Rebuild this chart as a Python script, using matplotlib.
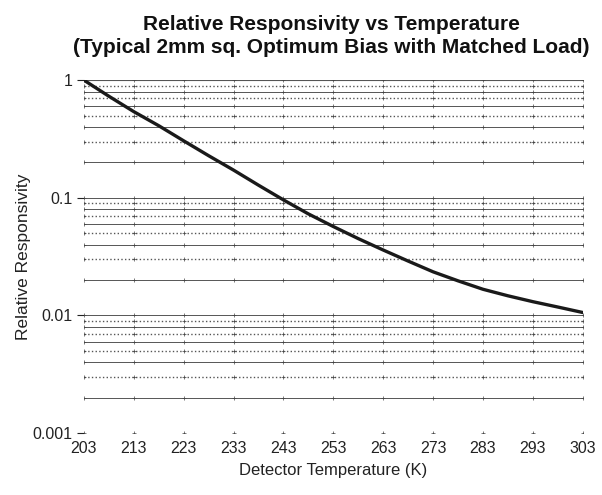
import numpy as np
import matplotlib
matplotlib.use("Agg")
import matplotlib.pyplot as plt

plt.rcParams["font.family"] = ["Liberation Sans", "DejaVu Sans"]

# detector temperature (K) and relative responsivity
temp_k = [203, 208, 213, 218, 223, 228, 233, 238, 243, 248, 253,
          258, 263, 268, 273, 278, 283, 288, 293, 298, 303]
responsivity = [1.0, 0.73, 0.54, 0.41, 0.305, 0.228, 0.172, 0.128, 0.096, 0.073, 0.057,
                0.045, 0.036, 0.029, 0.0235, 0.0197, 0.0167, 0.0147, 0.0131, 0.0118, 0.0106]

x_ticks = [203, 213, 223, 233, 243, 253, 263, 273, 283, 293, 303]
y_ticks = [0.001, 0.01, 0.1, 1]
y_tick_labels = ["0.001", "0.01", "0.1", "1"]

fig = plt.figure(figsize=(6.02, 4.95), dpi=100)
ax = fig.add_axes([0.1395, 0.125, 0.8285, 0.713])

# horizontal grid at every 1..9 x decade, mixed solid / dotted like the printed original
styles = {1: "-", 2: "-", 3: ":", 4: "-", 5: ":", 6: "-", 7: ":", 8: "-", 9: ":"}
for dec in [0.001, 0.01, 0.1]:
    for m in range(1, 10):
        v = dec * m
        ls = styles[m]
        ax.axhline(v, color="#555555", lw=0.7 if ls == "-" else 1.0, ls=ls, zorder=1)
ax.axhline(1.0, color="#555555", lw=0.8, zorder=1)

# small crosses where the vertical grid would be
gx, gy = np.meshgrid(x_ticks, [d * m for d in [0.001, 0.01, 0.1] for m in range(1, 10)] + [1.0])
ax.scatter(gx.ravel(), gy.ravel(), marker="+", s=6, lw=0.5, color="#444444", zorder=2)

ax.plot(temp_k, responsivity, color="#1a1a1a", lw=2.4, zorder=3, solid_capstyle="round")

ax.set_yscale("log")
ax.set_xlim(203, 303)
ax.set_ylim(0.001, 1)
ax.set_xticks(x_ticks)
ax.set_yticks(y_ticks)
ax.set_yticklabels(y_tick_labels)
ax.yaxis.set_minor_locator(matplotlib.ticker.NullLocator())
for s in ax.spines.values():
    s.set_visible(False)
ax.tick_params(axis="x", length=0, pad=6, labelsize=11.5, colors="#222222")
ax.tick_params(axis="y", length=5, width=0.8, pad=3, labelsize=11.5, colors="#222222")

ax.set_xlabel("Detector Temperature (K)", fontsize=12, color="#222222", labelpad=5)
ax.set_ylabel("Relative Responsivity", fontsize=12.5, color="#222222", labelpad=1)
fig.suptitle("Relative Responsivity vs Temperature\n(Typical 2mm sq. Optimum Bias with Matched Load)",
             x=0.55, y=0.97, fontsize=15, fontweight="bold", color="#111111", linespacing=1.3)

fig.savefig("out.png", dpi=100)
